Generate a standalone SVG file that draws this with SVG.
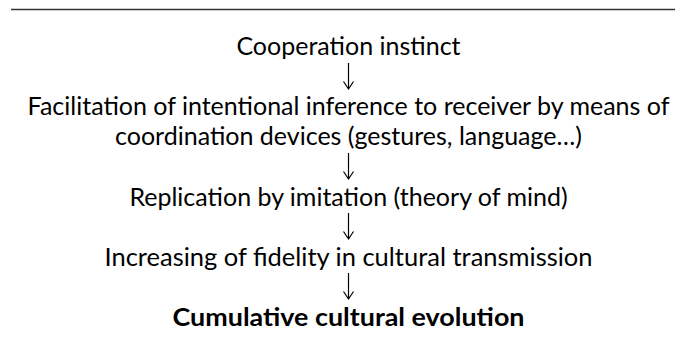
<svg xmlns="http://www.w3.org/2000/svg" width="675" height="340" viewBox="0 0 675 340">
<style>
.t{font-family:"Lato","Open Sans","DejaVu Sans",sans-serif;font-size:25px;fill:#000;text-anchor:middle}
.b{font-weight:bold}
.c{stroke:#000;stroke-width:1.2;fill:none}
</style>
<defs>
<path id="ar" class="c" d="M0,0 V26 M-5,18.5 L0,26 L5,18.5"/>
</defs>
<rect width="675" height="340" fill="#fff"/>
<line x1="11" y1="9.5" x2="675" y2="9.5" stroke="#333" stroke-width="1.3"/>
<g id="n1"><text class="t" x="348.5" y="55">Cooperation instinct</text></g>
<g id="n2"><text class="t" x="348.5" y="115">Facilitation of intentional inference to receiver by means of</text><text class="t" x="348.5" y="145">coordination devices (gestures, language…)</text></g>
<g id="n3"><text class="t" x="348.5" y="206">Replication by imitation (theory of mind)</text></g>
<g id="n4"><text class="t" x="348.5" y="266" textLength="488" lengthAdjust="spacingAndGlyphs">Increasing of fidelity in cultural transmission</text></g>
<g id="n5"><text class="t b" x="348.5" y="326" textLength="352" lengthAdjust="spacingAndGlyphs">Cumulative cultural evolution</text></g>
<g id="connectors">
<use href="#ar" x="348.5" y="63"/>
<use href="#ar" x="348.5" y="153"/>
<use href="#ar" x="348.5" y="213"/>
<use href="#ar" x="348.5" y="273"/>
</g>
</svg>
